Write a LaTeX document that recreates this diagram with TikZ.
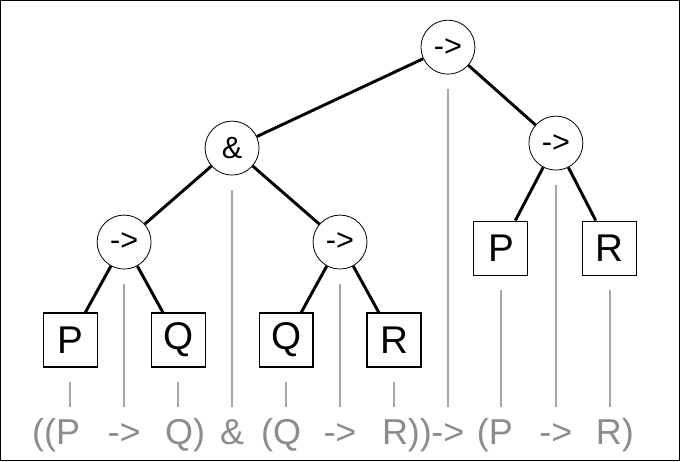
\documentclass[tikz,border=0pt]{standalone}
\usepackage{fontspec}
\setmainfont{Liberation Sans}
\begin{document}
\begin{tikzpicture}[x=0.75pt,y=-0.75pt,
 op/.style={circle,draw,line width=0.6pt,minimum size=40.5pt,inner sep=0pt,font=\fontsize{23}{25}\selectfont},
 lf/.style={rectangle,draw,line width=0.8pt,minimum width=40.5pt,minimum height=40.5pt,inner sep=0pt,font=\fontsize{29}{32}\selectfont},
 ed/.style={line width=2.2pt},
 gl/.style={draw=gray!70,line width=1pt},
 tx/.style={text=gray!90,font=\fontsize{27}{30}\selectfont,inner sep=0pt,anchor=base}]
\draw[black,line width=1pt] (0.5,0.5) rectangle (679.5,460.5);
\useasboundingbox (0,0) rectangle (680,461);
\node[op] (r) at (448,47) {->};
\node[op] (a) at (232,148) {\&};
\node[op] (ri) at (556,143) {->};
\node[op] (l) at (124,242) {->};
\node[op] (m) at (340,242) {->};
\node[lf] (p2) at (501,248) {P};
\node[lf] (r2) at (610,248) {R};
\node[lf] (p1) at (70,340) {P};
\node[lf] (q1) at (178,340) {Q};
\node[lf] (q2) at (286,340) {Q};
\node[lf] (r1) at (394,340) {R};
\draw[ed] (r)--(a); \draw[ed] (r)--(ri);
\draw[ed] (a)--(l); \draw[ed] (a)--(m);
\draw[ed] (ri)--(p2); \draw[ed] (ri)--(r2);
\draw[ed] (l)--(p1); \draw[ed] (l)--(q1);
\draw[ed] (m)--(q2); \draw[ed] (m)--(r1);
\coordinate (b1) at (70,407); \coordinate (b2) at (124,407); \coordinate (b3) at (178,407);
\coordinate (b4) at (232,407); \coordinate (b5) at (286,407); \coordinate (b6) at (340,407);
\coordinate (b7) at (394,407); \coordinate (b8) at (448,407); \coordinate (b9) at (501,407);
\coordinate (b10) at (556,407); \coordinate (b11) at (610,407);
\path[gl] ([yshift=-11pt]p1.south)--(b1); \path[gl] ([yshift=-11pt]l.south)--(b2);
\path[gl] ([yshift=-11pt]q1.south)--(b3); \path[gl] ([yshift=-11pt]a.south)--(b4);
\path[gl] ([yshift=-11pt]q2.south)--(b5); \path[gl] ([yshift=-11pt]m.south)--(b6);
\path[gl] ([yshift=-11pt]r1.south)--(b7); \path[gl] ([yshift=-11pt]r.south)--(b8);
\path[gl] ([yshift=-11pt]p2.south)--(b9); \path[gl] ([yshift=-11pt]ri.south)--(b10);
\path[gl] ([yshift=-11pt]r2.south)--(b11);
\node[tx] (t1) at (56,445) {((P};
\node[tx] (t2) at (124,445) {->};
\node[tx] (t3) at (185,445) {Q)};
\node[tx] (t4) at (232,445) {\&};
\node[tx] (t5) at (281,445) {(Q};
\node[tx] (t6) at (340,445) {->};
\node[tx] (t7) at (407,445) {R))};
\node[tx] (t8) at (448,445) {->};
\node[tx] (t9) at (495,445) {(P};
\node[tx] (t10) at (556,445) {->};
\node[tx] (t11) at (615,445) {R)};
\end{tikzpicture}
\end{document}
